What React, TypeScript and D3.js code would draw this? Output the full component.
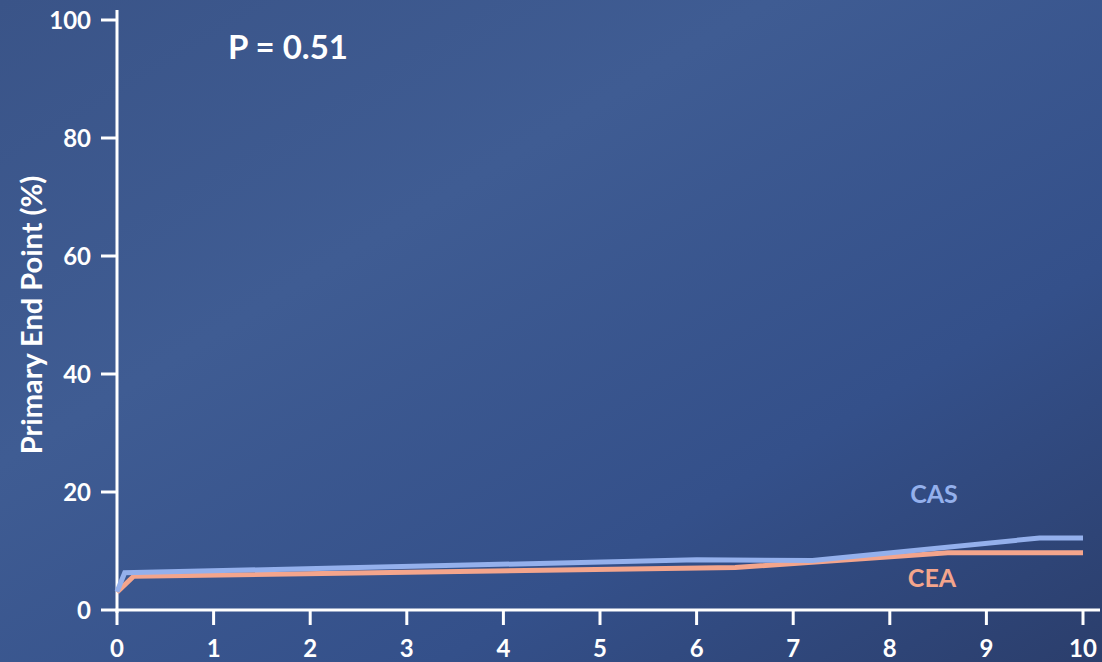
import React from "react";
import * as d3 from "d3";

const W = 1102;
const H = 662;

const xTicks = [0, 1, 2, 3, 4, 5, 6, 7, 8, 9, 10];
const yTicks = [0, 20, 40, 60, 80, 100];

const casYears = [0, 0.08, 2.5, 6, 7.2, 9.55, 10];
const casValues = [3.1, 6.3, 7.2, 8.5, 8.4, 12.2, 12.2];

const ceaYears = [0, 0.17, 6.4, 8.6, 10];
const ceaValues = [3.0, 5.7, 7.2, 9.7, 9.7];

const yLabel = "Primary End Point (%)";
const pText = "P = 0.51";

export default function App() {
  const x = d3.scaleLinear().domain([0, 10]).range([117, 1083]);
  const y = d3.scaleLinear().domain([0, 100]).range([610, 20]);
  const line = d3
    .line<[number, number]>()
    .x((d) => x(d[0]))
    .y((d) => y(d[1]));
  const cas = casYears.map((t, i) => [t, casValues[i]] as [number, number]);
  const cea = ceaYears.map((t, i) => [t, ceaValues[i]] as [number, number]);
  const font = "Lato, 'Open Sans', sans-serif";

  return (
    <svg
      width={W}
      height={H}
      style={{ position: "fixed", left: 0, top: 0, display: "block" }}
      fontFamily={font}
    >
      <defs>
        <linearGradient id="bg" x1="0" y1="0" x2="1" y2="1">
          <stop offset="0" stopColor="#3a5488" />
          <stop offset="0.35" stopColor="#3f5c93" />
          <stop offset="0.7" stopColor="#34508a" />
          <stop offset="1" stopColor="#2b3e6c" />
        </linearGradient>
      </defs>
      <rect width={W} height={H} fill="url(#bg)" />
      {/* y axis */}
      <line x1={x(0)} x2={x(0)} y1={y(100) - 10} y2={y(0) + 3} stroke="#fff" strokeWidth={3} />
      {yTicks.map((t) => (
        <g key={t}>
          <line x1={101} x2={x(0)} y1={y(t)} y2={y(t)} stroke="#fff" strokeWidth={3} />
          <text
            x={91}
            y={y(t)}
            dy="0.36em"
            textAnchor="end"
            fill="#fff"
            fontWeight="bold"
            fontSize={24}
          >
            {t}
          </text>
        </g>
      ))}
      {/* x axis */}
      <line x1={x(0) - 1.5} x2={1100} y1={y(0)} y2={y(0)} stroke="#fff" strokeWidth={3} />
      {xTicks.map((t) => (
        <g key={t}>
          <line x1={x(t)} x2={x(t)} y1={y(0)} y2={y(0) + 15} stroke="#fff" strokeWidth={3} />
          <text
            x={x(t)}
            y={657}
            textAnchor="middle"
            fill="#fff"
            fontWeight="bold"
            fontSize={24}
          >
            {t}
          </text>
        </g>
      ))}
      <text
        transform={`translate(42, ${315}) rotate(-90)`}
        textAnchor="middle"
        fill="#fff"
        fontWeight="bold"
        fontSize={29}
      >
        {yLabel}
      </text>
      <text x={228} y={59} fill="#fff" fontWeight="bold" fontSize={33}>
        {pText}
      </text>
      <path d={line(cea) || ""} fill="none" stroke="#f4a58c" strokeWidth={5} strokeLinejoin="miter" />
      <path d={line(cas) || ""} fill="none" stroke="#94b0ec" strokeWidth={5} strokeLinejoin="miter" />
      <text x={934} y={503} textAnchor="middle" fill="#94b0ec" fontWeight="bold" fontSize={25}>
        CAS
      </text>
      <text x={932} y={587} textAnchor="middle" fill="#f4a58c" fontWeight="bold" fontSize={25}>
        CEA
      </text>
    </svg>
  );
}
